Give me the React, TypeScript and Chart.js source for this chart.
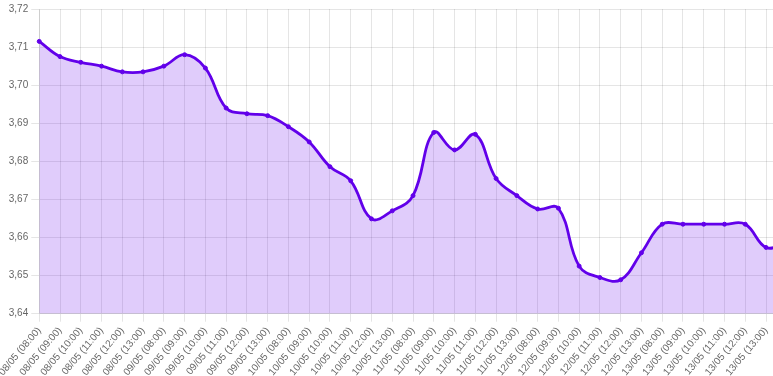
import React, { useEffect, useRef } from "react";
import { Chart, registerables } from "chart.js";

Chart.register(...registerables);

const labels: string[] = [
  "08/05 (08:00)", "08/05 (09:00)", "08/05 (10:00)", "08/05 (11:00)", "08/05 (12:00)", "08/05 (13:00)",
  "09/05 (08:00)", "09/05 (09:00)", "09/05 (10:00)", "09/05 (11:00)", "09/05 (12:00)", "09/05 (13:00)",
  "10/05 (08:00)", "10/05 (09:00)", "10/05 (10:00)", "10/05 (11:00)", "10/05 (12:00)", "10/05 (13:00)",
  "11/05 (08:00)", "11/05 (09:00)", "11/05 (10:00)", "11/05 (11:00)", "11/05 (12:00)", "11/05 (13:00)",
  "12/05 (08:00)", "12/05 (09:00)", "12/05 (10:00)", "12/05 (11:00)", "12/05 (12:00)", "12/05 (13:00)",
  "13/05 (08:00)", "13/05 (09:00)", "13/05 (10:00)", "13/05 (11:00)", "13/05 (12:00)", "13/05 (13:00)",
  "",
];

const values: number[] = [
  3.7115, 3.7075, 3.706, 3.705, 3.7035, 3.7035,
  3.705, 3.708, 3.7045, 3.694, 3.6925, 3.692,
  3.6891, 3.6851, 3.6786, 3.6749, 3.6649, 3.667,
  3.671, 3.6876, 3.683, 3.6871, 3.6755, 3.671,
  3.6675, 3.6677, 3.6525, 3.6495, 3.6489, 3.656,
  3.6635, 3.6635, 3.6635, 3.6635, 3.6635, 3.6574,
  3.6585,
];

const yMin = 3.64;
const yMax = 3.72;
const yStep = 0.01;

export default function App() {
  const ref = useRef<HTMLCanvasElement | null>(null);
  useEffect(() => {
    if (!ref.current) return;
    const chart = new Chart(ref.current, {
      type: "line",
      data: {
        labels,
        datasets: [
          {
            data: values,
            borderColor: "#6200ea",
            backgroundColor: "rgba(98,0,234,0.2)",
            pointBackgroundColor: "#6200ea",
            pointBorderColor: "#6200ea",
            pointRadius: 2,
            pointBorderWidth: 1,
            borderWidth: 2.8,
            tension: 0.4,
            fill: true,
          },
        ],
      },
      options: {
        responsive: false,
        animation: false,
        plugins: { legend: { display: false }, tooltip: { enabled: false } },
        scales: {
          x: {
            grid: { color: "rgba(0,0,0,0.1)" },
            ticks: {
              color: "#666",
              font: { size: 10 },
              autoSkip: false,
              minRotation: 50,
              maxRotation: 50,
            },
          },
          y: {
            min: yMin,
            max: yMax,
            grid: { color: "rgba(0,0,0,0.1)" },
            ticks: {
              color: "#666",
              font: { size: 10 },
              stepSize: yStep,
              callback: (v: any) => Number(v).toFixed(2).replace(".", ","),
            },
          },
        },
      },
    });
    return () => chart.destroy();
  }, []);
  return (
    <div style={{ position: "absolute", left: -2, top: 0 }}>
      <canvas ref={ref} width={801} height={381} style={{ display: "block" }} />
    </div>
  );
}
